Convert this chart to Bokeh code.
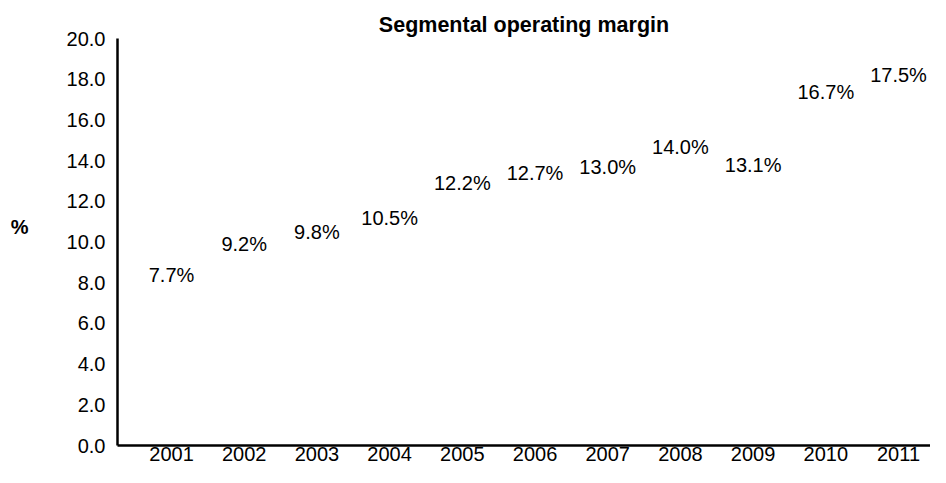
from bokeh.plotting import figure
from bokeh.models import FixedTicker, Range1d, ColumnDataSource, LinearAxis
from bokeh.core.properties import value
from bokeh.embed import file_html
from bokeh.resources import INLINE

# ---- data ----
years = [2001, 2002, 2003, 2004, 2005, 2006, 2007, 2008, 2009, 2010, 2011]
margin = [7.7, 9.2, 9.8, 10.5, 12.2, 12.7, 13.0, 14.0, 13.1, 16.7, 17.5]
margin_labels = ["7.7%", "9.2%", "9.8%", "10.5%", "12.2%", "12.7%", "13.0%",
                 "14.0%", "13.1%", "16.7%", "17.5%"]
y_ticks = [0, 2, 4, 6, 8, 10, 12, 14, 16, 18, 20]
y_tick_labels = ["0.0", "2.0", "4.0", "6.0", "8.0", "10.0", "12.0", "14.0",
                 "16.0", "18.0", "20.0"]
title_text = "Segmental operating margin"
y_unit = "%"
y_unit_pos = 10.74

FONT = "Liberation Sans"

p = figure(width=930, height=467, output_backend="svg", toolbar_location=None,
           x_range=Range1d(2000.257, 2011.44), y_range=Range1d(0, 20),
           min_border_left=117, min_border_right=0, min_border_top=38,
           min_border_bottom=22, title=title_text)

p.title.text_font = FONT
p.title.text_font_size = "21.5px"
p.title.text_font_style = "bold"
p.title.align = "center"
p.title.standoff = 4
p.title.text_color = "black"

p.outline_line_color = None
p.grid.visible = False
p.background_fill_color = "white"
p.border_fill_color = "white"

# axes
p.xaxis.ticker = FixedTicker(ticks=years)
p.yaxis.ticker = FixedTicker(ticks=y_ticks)
p.yaxis.major_label_overrides = {t: l for t, l in zip(y_ticks, y_tick_labels)}
for ax in (p.xaxis[0], p.yaxis[0]):
    ax.axis_line_width = 2.5
    ax.axis_line_color = "black"
    ax.major_tick_line_color = None
    ax.minor_tick_line_color = None
    ax.major_tick_out = 0
    ax.major_tick_in = 0
    ax.major_label_text_font = FONT
    ax.major_label_text_font_size = "20px"
    ax.major_label_text_color = "black"
p.yaxis.major_label_standoff = 12
p.xaxis.major_label_standoff = 1

# unit marker "%" placed as an outer left axis label
unit_axis = LinearAxis(ticker=FixedTicker(ticks=[y_unit_pos]),
                       major_label_overrides={y_unit_pos: y_unit},
                       axis_line_color=None, major_tick_line_color=None,
                       minor_tick_line_color=None, major_tick_out=0,
                       major_tick_in=0, major_label_standoff=35,
                       major_label_text_font=FONT,
                       major_label_text_font_size="20px",
                       major_label_text_font_style="bold",
                       major_label_text_color="black")
p.add_layout(unit_axis, "left")

src = ColumnDataSource(dict(x=years, y=margin, t=margin_labels))
p.text(x="x", y="y", text="t", source=src, x_offset=0, y_offset=-14,
       text_align="center", text_baseline="middle",
       text_font=value(FONT), text_font_size="20px", text_color="black")

open("out.html", "w").write(file_html(p, INLINE))
